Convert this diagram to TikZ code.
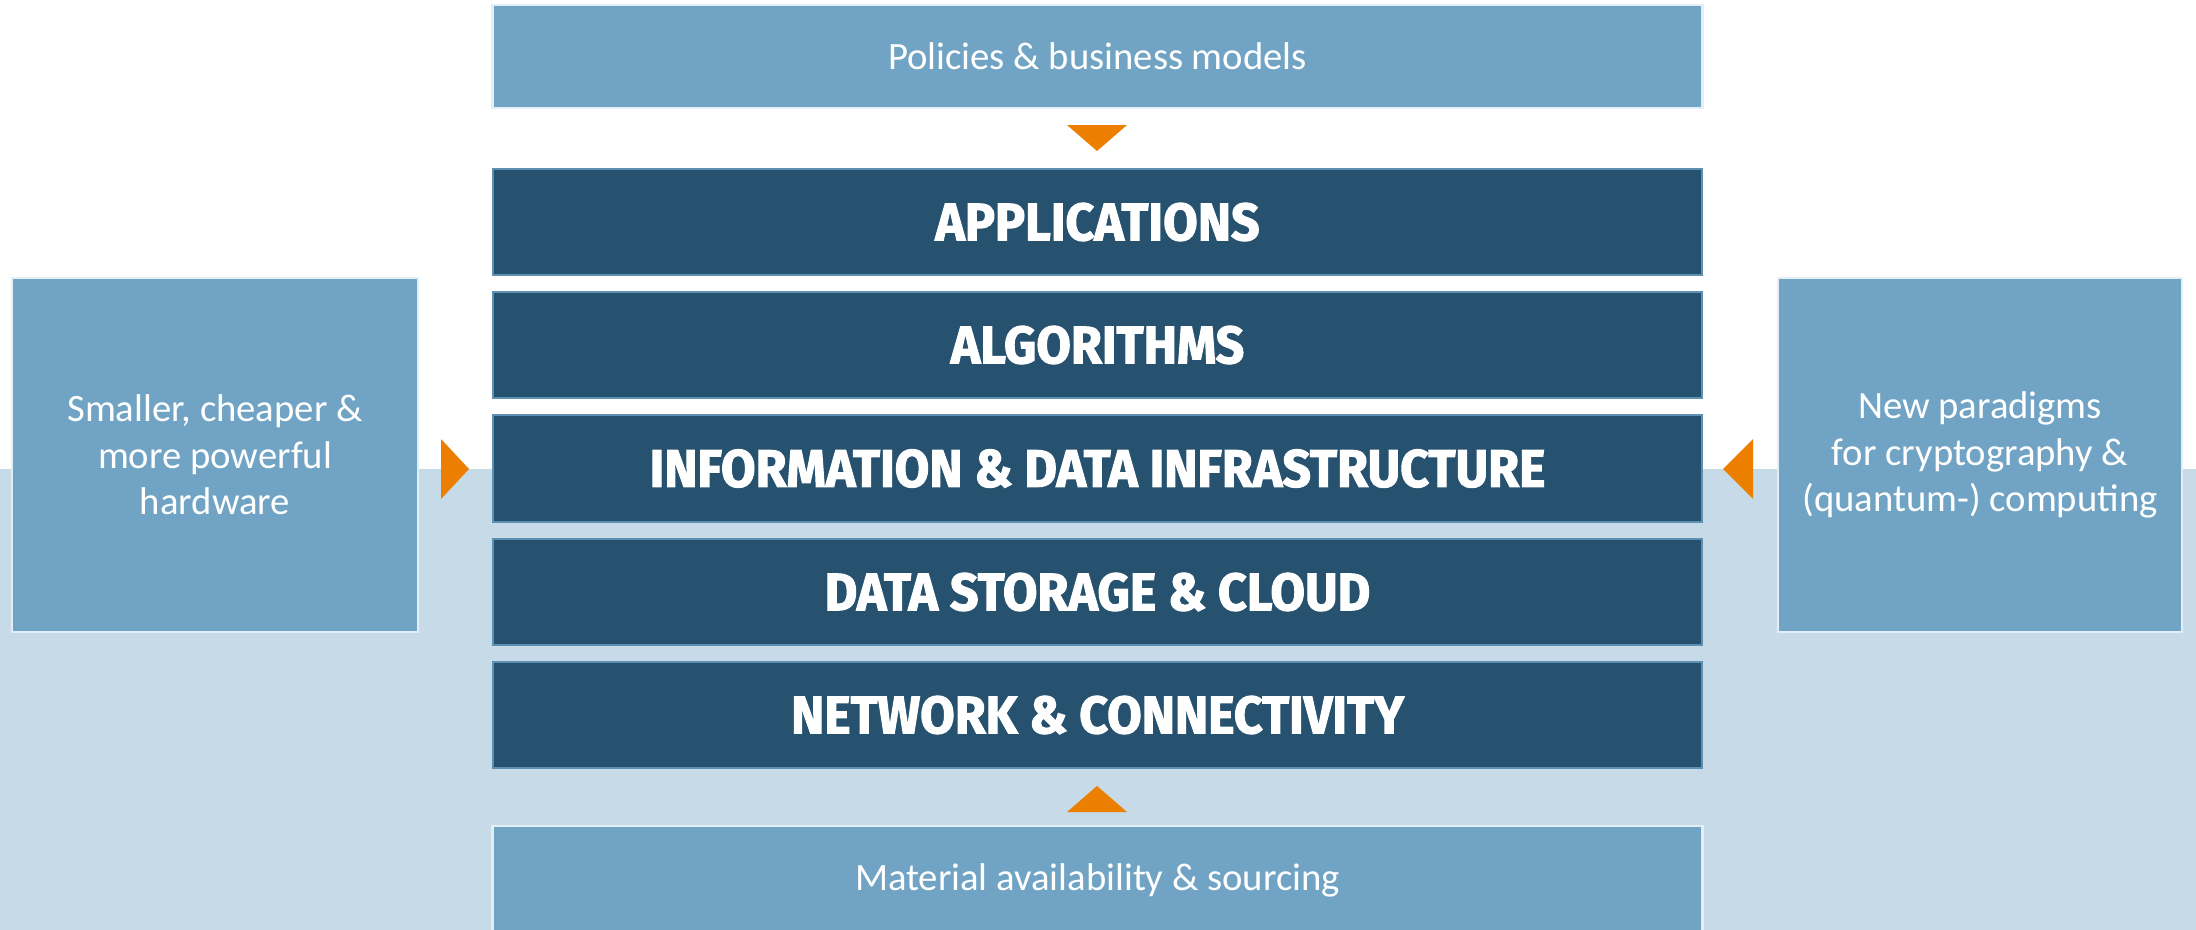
\documentclass[tikz,border=0pt]{standalone}
\usepackage{fontspec}
\setmainfont{Carlito}
\newfontfamily\layerfont[BoldFeatures={FakeStretch=0.95,FakeBold=2}]{Fira Sans}
\usetikzlibrary{positioning}
\usepackage{xcolor}
\definecolor{layerblue}{HTML}{26526F}
\definecolor{layeredge}{HTML}{5E90B3}
\definecolor{drivercol}{HTML}{71A4C4}
\definecolor{driveredge}{HTML}{E4EEF5}
\definecolor{bandcol}{HTML}{C6DAE7}
\definecolor{tipcol}{HTML}{EC7F00}

\begin{document}
\begin{tikzpicture}[x=0.01cm, y=-0.01cm,
		layer/.style={fill=layerblue, draw=layeredge, line width=0.02cm, inner sep=0pt,
			minimum width=12.09cm, minimum height=1.06cm, text=white,
			font=\layerfont\bfseries\fontsize{15}{17}\selectfont},
		driver/.style={fill=drivercol, draw=driveredge, line width=0.025cm, inner sep=0pt,
			text=white, align=center, font=\fontsize{11}{13.2}\selectfont},
		tip/.style={fill=tipcol}]
		\clip (0,0) rectangle (2196,930);
		\useasboundingbox (0,0) rectangle (2196,930);
		\fill[white] (0,0) rectangle (2196,469);
		\fill[bandcol] (0,469) rectangle (2196,930);
		% drivers around the stack
		\node[driver, minimum width=12.09cm, minimum height=1.03cm] (policies) at (1097.5,56.5) {Policies \& business models};
		\node[driver, minimum width=12.09cm, minimum height=1.08cm] (material) at (1097.5,880) {Material availability \& sourcing};
		\node[driver, minimum width=4.06cm, minimum height=3.54cm] (hardware) at (215,455) {Smaller, cheaper \&\\more powerful\\hardware};
		\node[driver, minimum width=4.04cm, minimum height=3.54cm] (paradigms) at (1980,455) {New paradigms\\for cryptography \&\\(quantum-) computing};
		% the layers
		\node[layer] (apps) at (1097.5,222) {APPLICATIONS};
		\node[layer] (algos) at (1097.5,345) {ALGORITHMS};
		\node[layer] (infra) at (1097.5,468.5) {INFORMATION \& DATA INFRASTRUCTURE};
		\node[layer] (storage) at (1097.5,592) {DATA STORAGE \& CLOUD};
		\node[layer] (network) at (1097.5,715) {NETWORK \& CONNECTIVITY};
		% arrow heads
		\fill[tip] (1067,125) -- (1127,125) -- (1097,151) -- cycle;
		\fill[tip] (1067,812) -- (1127,812) -- (1097,786) -- cycle;
		\fill[tip] (441,439) -- (469,469) -- (441,499) -- cycle;
		\fill[tip] (1753,439) -- (1723,469) -- (1753,499) -- cycle;
	\end{tikzpicture}
\end{document}
